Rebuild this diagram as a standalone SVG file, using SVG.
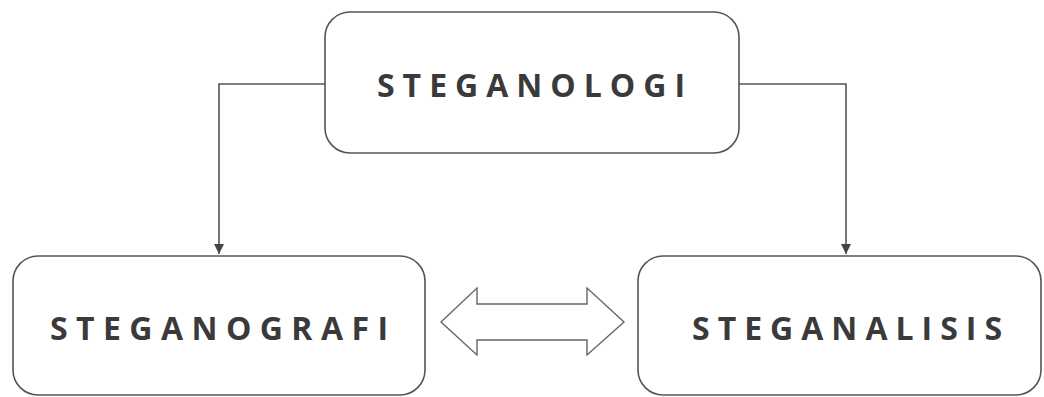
<svg xmlns="http://www.w3.org/2000/svg" width="1044" height="397" viewBox="0 0 1044 397">
  <style>
    .box { fill: #ffffff; stroke: #555555; stroke-width: 1.6; }
    .label { font-family: "Open Sans", "Liberation Sans", sans-serif; font-weight: bold; font-size: 32px; fill: #3a3a3a; }
    .link { fill: none; stroke: #555555; stroke-width: 1.6; }
    .dbl { fill: #ffffff; stroke: #666666; stroke-width: 1.4; stroke-linejoin: miter; }
  </style>
  <defs>
    <marker id="head" viewBox="0 0 10 10" refX="10" refY="5" markerWidth="10" markerHeight="10" markerUnits="userSpaceOnUse" orient="auto">
      <path d="M0,0 L10,5 L0,10 Z" fill="#444444"/>
    </marker>
  </defs>
  <rect width="1044" height="397" fill="#ffffff"/>

  <g id="connectors">
    <polyline class="link" points="325,84 219,84 219,254" marker-end="url(#head)"/>
    <polyline class="link" points="739,84 846,84 846,254" marker-end="url(#head)"/>
    <path class="dbl" d="M441,322 L477,288 L477,304 L587,304 L587,288 L624,322 L587,355 L587,340 L477,340 L477,355 Z"/>
  </g>

  <g id="steganologi">
    <rect class="box" x="325" y="12" width="414" height="141" rx="25" ry="25"/>
    <text class="label" x="377" y="97" textLength="308" lengthAdjust="spacing">STEGANOLOGI</text>
  </g>

  <g id="steganografi">
    <rect class="box" x="13" y="256" width="412" height="139" rx="25" ry="25"/>
    <text class="label" x="50" y="340" textLength="338" lengthAdjust="spacing">STEGANOGRAFI</text>
  </g>

  <g id="steganalisis">
    <rect class="box" x="638" y="256" width="403" height="139" rx="25" ry="25"/>
    <text class="label" x="692" y="340" textLength="310" lengthAdjust="spacing">STEGANALISIS</text>
  </g>
</svg>
